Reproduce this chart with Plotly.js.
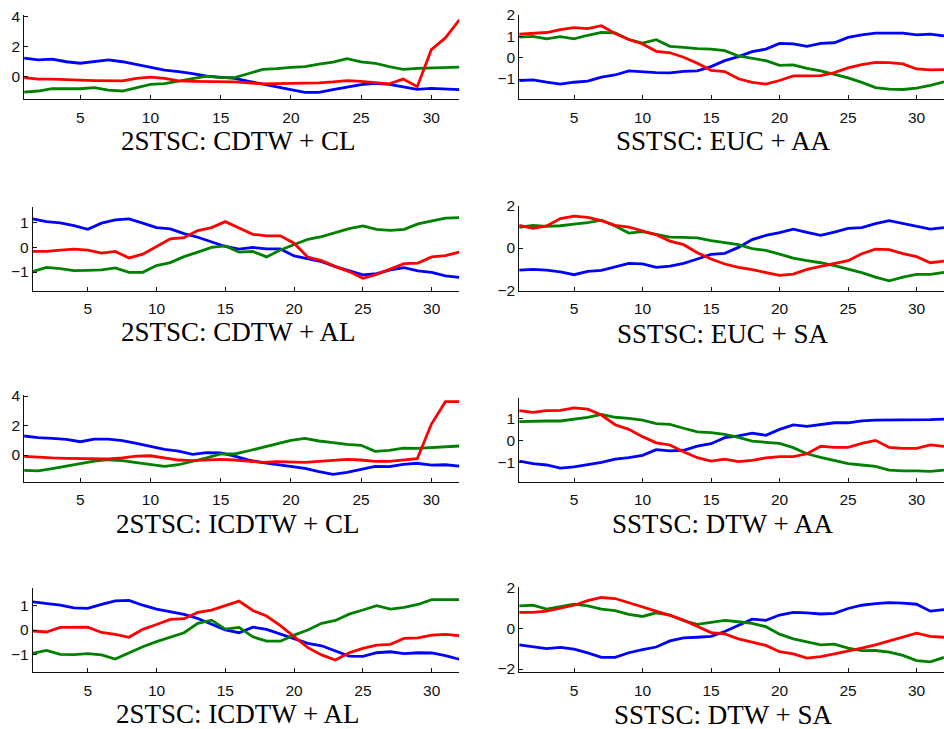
<!DOCTYPE html>
<html>
<head>
<meta charset="utf-8">
<script src="https://cdn.plot.ly/plotly-3.0.1.min.js"></script>
<style>html,body{margin:0;padding:0;background:#fff;}#chart{width:944px;height:729px;}</style>
</head>
<body>
<div id="chart"></div>
<script>
// ---- data ----
const xIdx = [1,2,3,4,5,6,7,8,9,10,11,12,13,14,15,16,17,18,19,20,21,22,23,24,25,26,27,28,29,30,31,32];
const xTicks = [5,10,15,20,25,30];

const titles = ["2STSC: CDTW + CL","SSTSC: EUC + AA","2STSC: CDTW + AL","SSTSC: EUC + SA",
                "2STSC: ICDTW + CL","SSTSC: DTW + AA","2STSC: ICDTW + AL","SSTSC: DTW + SA"];

// Panel 1: 2STSC: CDTW + CL
const p1Blue  = [1.24,1.12,1.17,1.0,0.9,1.0,1.12,1.0,0.8,0.6,0.45,0.34,0.22,0.05,-0.05,-0.1,-0.3,-0.5,-0.67,-0.85,-1.03,-1.03,-0.85,-0.67,-0.52,-0.43,-0.5,-0.67,-0.83,-0.76,-0.79,-0.85];
const p1Green = [-1.01,-0.94,-0.79,-0.8,-0.79,-0.72,-0.88,-0.94,-0.72,-0.5,-0.45,-0.3,-0.1,0.05,-0.05,-0.05,0.22,0.5,0.54,0.63,0.67,0.85,0.97,1.21,0.99,0.9,0.67,0.5,0.56,0.6,0.6,0.65];
const p1Red   = [-0.05,-0.15,-0.15,-0.2,-0.22,-0.25,-0.27,-0.27,-0.1,-0.02,-0.1,-0.27,-0.3,-0.3,-0.3,-0.34,-0.4,-0.47,-0.45,-0.43,-0.45,-0.4,-0.34,-0.25,-0.3,-0.36,-0.47,-0.15,-0.65,1.8,2.58,3.78];

// Panel 2: SSTSC: EUC + AA
const p2Blue  = [-1.07,-1.04,-1.15,-1.24,-1.15,-1.1,-0.91,-0.81,-0.62,-0.67,-0.7,-0.71,-0.64,-0.62,-0.42,-0.14,0.05,0.28,0.4,0.67,0.65,0.53,0.67,0.7,0.95,1.07,1.15,1.15,1.15,1.07,1.1,1.02];
const p2Green = [0.96,1.0,0.88,0.99,0.88,1.05,1.18,1.16,0.85,0.68,0.84,0.53,0.48,0.42,0.4,0.33,0.08,-0.02,-0.14,-0.36,-0.34,-0.5,-0.62,-0.78,-0.95,-1.16,-1.4,-1.47,-1.49,-1.43,-1.3,-1.13];
const p2Red   = [1.1,1.15,1.18,1.32,1.41,1.36,1.5,1.13,0.85,0.64,0.3,0.23,0.02,-0.26,-0.59,-0.65,-0.99,-1.16,-1.24,-1.07,-0.85,-0.85,-0.84,-0.7,-0.48,-0.33,-0.22,-0.23,-0.29,-0.53,-0.57,-0.56];

// Panel 3: 2STSC: CDTW + AL
const p3Blue  = [1.14,1.03,0.98,0.87,0.72,0.97,1.1,1.14,0.97,0.79,0.74,0.55,0.4,0.23,0.03,-0.08,-0.01,-0.07,-0.07,-0.35,-0.47,-0.58,-0.78,-0.95,-1.11,-1.06,-0.91,-0.82,-0.95,-1.01,-1.15,-1.21];
const p3Green = [-0.98,-0.81,-0.86,-0.94,-0.93,-0.91,-0.83,-1.01,-1.01,-0.74,-0.62,-0.38,-0.2,-0.01,0.05,-0.2,-0.17,-0.39,-0.11,0.09,0.32,0.43,0.6,0.75,0.86,0.72,0.68,0.72,0.94,1.06,1.17,1.19];
const p3Red   = [-0.17,-0.17,-0.12,-0.08,-0.12,-0.24,-0.17,-0.43,-0.28,0.04,0.34,0.39,0.67,0.79,1.03,0.77,0.52,0.46,0.46,0.16,-0.4,-0.54,-0.78,-0.98,-1.25,-1.09,-0.87,-0.66,-0.64,-0.39,-0.34,-0.2];

// Panel 4: SSTSC: EUC + SA
const p4Blue  = [-1.05,-1.02,-1.05,-1.13,-1.27,-1.11,-1.06,-0.89,-0.73,-0.75,-0.92,-0.86,-0.73,-0.52,-0.3,-0.25,0.03,0.4,0.6,0.73,0.9,0.75,0.6,0.76,0.94,0.97,1.16,1.3,1.17,1.06,0.9,0.97];
const p4Green = [0.98,1.08,1.03,1.06,1.14,1.21,1.33,1.05,0.71,0.78,0.65,0.52,0.51,0.48,0.35,0.25,0.16,-0.03,-0.11,-0.29,-0.48,-0.6,-0.7,-0.84,-1.0,-1.17,-1.38,-1.56,-1.38,-1.25,-1.25,-1.16];
const p4Red   = [1.08,0.94,1.05,1.4,1.52,1.46,1.3,1.08,1.0,0.81,0.63,0.33,0.16,-0.22,-0.52,-0.76,-0.92,-1.03,-1.16,-1.3,-1.24,-1.02,-0.87,-0.75,-0.6,-0.27,-0.05,-0.08,-0.27,-0.41,-0.7,-0.62];

// Panel 5: 2STSC: ICDTW + CL
const p5Blue  = [1.29,1.18,1.13,1.06,0.9,1.08,1.08,0.97,0.79,0.61,0.38,0.27,0.05,0.16,0.14,-0.07,-0.34,-0.52,-0.63,-0.79,-0.9,-1.13,-1.31,-1.18,-0.95,-0.77,-0.79,-0.63,-0.56,-0.68,-0.66,-0.75];
const p5Green = [-1.04,-1.08,-0.93,-0.75,-0.54,-0.41,-0.32,-0.38,-0.52,-0.63,-0.77,-0.66,-0.45,-0.2,0.07,0.07,0.29,0.52,0.75,0.99,1.13,0.95,0.84,0.72,0.66,0.25,0.32,0.47,0.45,0.5,0.56,0.61];
const p5Red   = [-0.09,-0.16,-0.2,-0.23,-0.25,-0.27,-0.27,-0.2,-0.07,-0.05,-0.18,-0.34,-0.38,-0.32,-0.29,-0.34,-0.43,-0.5,-0.45,-0.45,-0.5,-0.43,-0.34,-0.29,-0.34,-0.43,-0.43,-0.32,-0.25,2.08,3.62,3.62];

// Panel 6: SSTSC: DTW + AA
const p6Blue  = [-0.94,-1.06,-1.12,-1.26,-1.21,-1.12,-1.0,-0.85,-0.79,-0.68,-0.42,-0.48,-0.45,-0.26,-0.15,0.12,0.2,0.33,0.23,0.5,0.7,0.64,0.71,0.8,0.8,0.89,0.92,0.92,0.91,0.92,0.94,0.97];
const p6Green = [0.85,0.88,0.88,0.88,0.97,1.05,1.18,1.05,1.0,0.92,0.76,0.73,0.55,0.39,0.35,0.27,0.14,-0.03,-0.09,-0.14,-0.33,-0.61,-0.77,-0.92,-1.06,-1.12,-1.18,-1.35,-1.39,-1.39,-1.41,-1.35];
const p6Red   = [1.35,1.27,1.35,1.36,1.48,1.42,1.15,0.71,0.5,0.17,-0.11,-0.21,-0.52,-0.79,-0.94,-0.85,-0.97,-0.91,-0.8,-0.74,-0.74,-0.61,-0.27,-0.32,-0.32,-0.14,0.0,-0.32,-0.36,-0.36,-0.21,-0.27];

// Panel 7: 2STSC: ICDTW + AL
const p7Blue  = [1.17,1.1,1.03,0.92,0.9,1.06,1.21,1.23,1.03,0.87,0.76,0.65,0.48,0.25,0.01,-0.11,0.12,0.03,-0.17,-0.34,-0.55,-0.65,-0.86,-1.08,-1.09,-0.94,-0.9,-0.98,-0.94,-0.95,-1.06,-1.21];
const p7Green = [-0.97,-0.84,-1.01,-1.02,-0.98,-1.03,-1.2,-0.94,-0.69,-0.48,-0.3,-0.11,0.28,0.41,0.04,0.11,-0.28,-0.46,-0.46,-0.21,0.0,0.28,0.4,0.66,0.83,1.01,0.87,0.94,1.06,1.26,1.26,1.26];
const p7Red   = [-0.04,-0.08,0.11,0.1,0.12,-0.1,-0.18,-0.3,0.03,0.23,0.44,0.47,0.73,0.83,1.03,1.2,0.81,0.58,0.18,-0.28,-0.73,-1.03,-1.24,-0.94,-0.76,-0.62,-0.59,-0.34,-0.32,-0.21,-0.18,-0.23];

// Panel 8: SSTSC: DTW + SA
const p8Blue  = [-0.81,-0.89,-1.0,-0.94,-1.02,-1.21,-1.43,-1.43,-1.2,-1.05,-0.92,-0.62,-0.47,-0.44,-0.4,-0.16,0.13,0.45,0.39,0.65,0.78,0.76,0.7,0.73,0.97,1.13,1.21,1.26,1.23,1.18,0.84,0.92];
const p8Green = [1.1,1.13,0.94,1.05,1.18,1.1,0.94,0.87,0.68,0.58,0.76,0.65,0.37,0.19,0.29,0.39,0.32,0.24,0.08,-0.29,-0.52,-0.68,-0.81,-0.78,-0.97,-1.1,-1.09,-1.17,-1.33,-1.59,-1.65,-1.43];
const p8Red   = [0.78,0.78,0.84,1.0,1.13,1.36,1.51,1.46,1.26,1.05,0.84,0.63,0.4,0.11,-0.21,-0.28,-0.52,-0.68,-0.84,-1.15,-1.26,-1.46,-1.39,-1.26,-1.13,-0.97,-0.81,-0.62,-0.44,-0.24,-0.4,-0.44];

const yTickSets = [[0,2,4],[-1,0,1,2],[-1,0,1],[-2,0,2],[0,2,4],[-1,0,1],[-1,0,1],[-2,0,2]];
const yRanges = [[-1.49,4.1],[-1.95,2.0],[-1.75,1.63],[-2.03,2.0],[-1.81,4.07],[-1.88,1.94],[-1.75,1.73],[-2.16,2.04]];
const seriesByPanel = [
  [p1Blue,p1Green,p1Red],[p2Blue,p2Green,p2Red],[p3Blue,p3Green,p3Red],[p4Blue,p4Green,p4Red],
  [p5Blue,p5Green,p5Red],[p6Blue,p6Green,p6Red],[p7Blue,p7Green,p7Red],[p8Blue,p8Green,p8Red]
];

// ---- layout (pixel boxes: x0, x1, yTop, yBottom) ----
const W = 944, H = 729;
const boxes = [
  [24.1,459.4,15,99.3],[519.2,944,15,99.3],
  [32.7,459.2,206.7,290.7],[519.2,944,206,290.7],
  [24.1,459.4,395,481.7],[519.2,944,397.7,481.7],
  [32.7,459.2,588.3,672.3],[519.2,944,586.7,672.3]
];
const titlePos = [[238,141],[723,141],[238,332],[723,333.5],[238,524],[723,523.5],[238,714],[723,714.5]];
const colors = ['#0000ff','#008000','#ff0000'];

const traces = [];
const layout = {
  width: W, height: H,
  margin: {l:0, r:0, t:0, b:0},
  paper_bgcolor: '#ffffff', plot_bgcolor: '#ffffff',
  showlegend: false,
  annotations: []
};
const tickFont = {family: 'Liberation Sans, Arial, sans-serif', size: 15.5, color: '#111'};

for (let i = 0; i < 8; i++) {
  const n = i + 1;
  const xa = 'x' + (n === 1 ? '' : n), ya = 'y' + (n === 1 ? '' : n);
  const b = boxes[i];
  seriesByPanel[i].forEach((s, k) => {
    traces.push({x: xIdx, y: s, xaxis: xa, yaxis: ya, type: 'scatter', mode: 'lines',
      line: {color: colors[k], width: 2.8}, hoverinfo: 'skip'});
  });
  const common = {showline: true, linecolor: '#111', linewidth: 1, ticks: 'inside', ticklen: 4,
    tickcolor: '#111', tickwidth: 1, showgrid: false, zeroline: false, mirror: false,
    tickfont: tickFont, fixedrange: true};
  layout['xaxis' + (n === 1 ? '' : n)] = Object.assign({}, common, {
    domain: [b[0]/W, b[1]/W], anchor: ya, range: [1,32],
    tickmode: 'array', tickvals: xTicks, ticktext: xTicks.map(String), ticklabelstandoff: 4
  });
  layout['yaxis' + (n === 1 ? '' : n)] = Object.assign({}, common, {
    domain: [1 - b[3]/H, 1 - b[2]/H], anchor: xa, range: yRanges[i],
    tickmode: 'array', tickvals: yTickSets[i], ticktext: yTickSets[i].map(v => v < 0 ? '\u2212' + Math.abs(v) : String(v))
  });
  layout.annotations.push({
    text: titles[i], xref: 'paper', yref: 'paper',
    x: titlePos[i][0]/W, y: 1 - titlePos[i][1]/H, xanchor: 'center', yanchor: 'middle',
    showarrow: false, font: {family: 'Liberation Serif, Times New Roman, serif', size: 27, color: '#000'}
  });
}

Plotly.newPlot('chart', traces, layout, {staticPlot: true, displayModeBar: false});
</script>
</body>
</html>
